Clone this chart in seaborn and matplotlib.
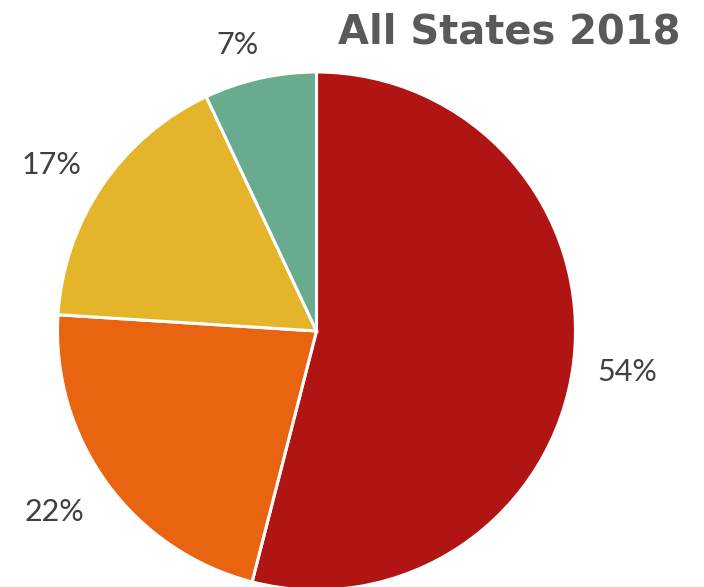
import matplotlib
matplotlib.use("Agg")
import matplotlib.pyplot as plt
import seaborn as sns

# Share of the total by category, drawn clockwise from 12 o'clock
categories = ["A", "B", "C", "D"]
shares = [54, 22, 17, 7]
labels = ["54%", "22%", "17%", "7%"]
colors = ["#B01513", "#E96410", "#E4B52A", "#68AB8E"]
title = "All States 2018"

sns.set_style("white")
plt.rcParams["font.family"] = ["Lato", "DejaVu Sans"]

W, H = 704, 587
fig = plt.figure(figsize=(W / 100, H / 100), dpi=100)
ax = fig.add_axes([0, 0, 1, 1])

wedges, _ = ax.pie(
    shares,
    colors=colors,
    startangle=90,
    counterclock=False,
    radius=1.0,
    wedgeprops=dict(edgecolor="white", linewidth=2.2),
)

# pixel layout: pie centre at (316.5, 331) from top-left, radius 259 px
R = 259.0
cx, cy = 316.5, 331.0
ax.set_aspect("auto")
ax.set_xlim(-cx / R, (W - cx) / R)
ax.set_ylim(-(H - cy) / R, cy / R)
ax.axis("off")

def px(x, y):
    return (x - cx) / R, (cy - y) / R

label_pos = [(627, 372), (55, 512), (52, 165), (238, 45)]
for lab, (x, y) in zip(labels, label_pos):
    ax.text(*px(x, y), lab, ha="center", va="center", fontsize=22,
            fontweight="normal", color="#404040")

ax.text(*px(680, 43), title, ha="right", va="baseline", fontsize=28.8,
        fontweight="bold", color="#595959", family="DejaVu Sans")

fig.savefig("out.png", dpi=100)
